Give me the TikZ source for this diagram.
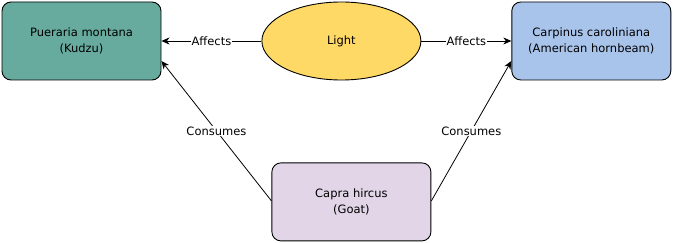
\documentclass[tikz,border=0pt]{standalone}
\usepackage{fontspec}
\setmainfont{DejaVu Sans}
\usepackage{xcolor}
\usepackage{tikz}
\usetikzlibrary{arrows.meta,positioning,shapes,calc}

\definecolor{kudzugreen}{HTML}{67AB9F}
\definecolor{lightyellow}{HTML}{FFD966}
\definecolor{hornblue}{HTML}{A9C4EB}
\definecolor{goatpurple}{HTML}{E1D5E7}

\begin{document}
\begin{tikzpicture}[x=1pt,y=-1pt,>={Stealth[length=8pt,width=7pt,inset=2.5pt]},font=\fontsize{11.5}{15.5}\selectfont]
\tikzstyle{box}=[draw, line width=0.9pt, rounded corners=9pt, align=center, minimum width=159pt, minimum height=78pt, inner sep=0pt]
\tikzstyle{link}=[->, line width=0.8pt]
\tikzstyle{lbl}=[fill=white, inner sep=1pt]
\useasboundingbox (0,0) rectangle (673,243);
\node[box, fill=kudzugreen] (kudzu) at (81.5,41) {Pueraria montana\\(Kudzu)};
\node[draw, ellipse, line width=0.9pt, fill=lightyellow, minimum width=159pt, minimum height=78pt, inner sep=0pt, right=100pt of kudzu] (light) {Light};
\node[box, fill=hornblue, right=90pt of light] (hornbeam) {Carpinus caroliniana\\(American hornbeam)};
\node[box, fill=goatpurple, below=82pt of light, xshift=10pt] (goat) {Capra hircus\\(Goat)};
\coordinate (kudzuin) at ($(kudzu.east)+(0,20)$);
\coordinate (hornin) at ($(hornbeam.west)+(0,20)$);
\coordinate (goatl) at ($(goat.west)+(0,-1)$);
\coordinate (goatr) at ($(goat.east)+(0,-1)$);
\draw[link] (light) -- node[lbl] {Affects} (kudzu);
\draw[link] (light) -- node[lbl] {Affects} (hornbeam);
\draw[link] (goatl) -- node[lbl] {Consumes} (kudzuin);
\draw[link] (goatr) -- node[lbl] {Consumes} (hornin);
\end{tikzpicture}
\end{document}
